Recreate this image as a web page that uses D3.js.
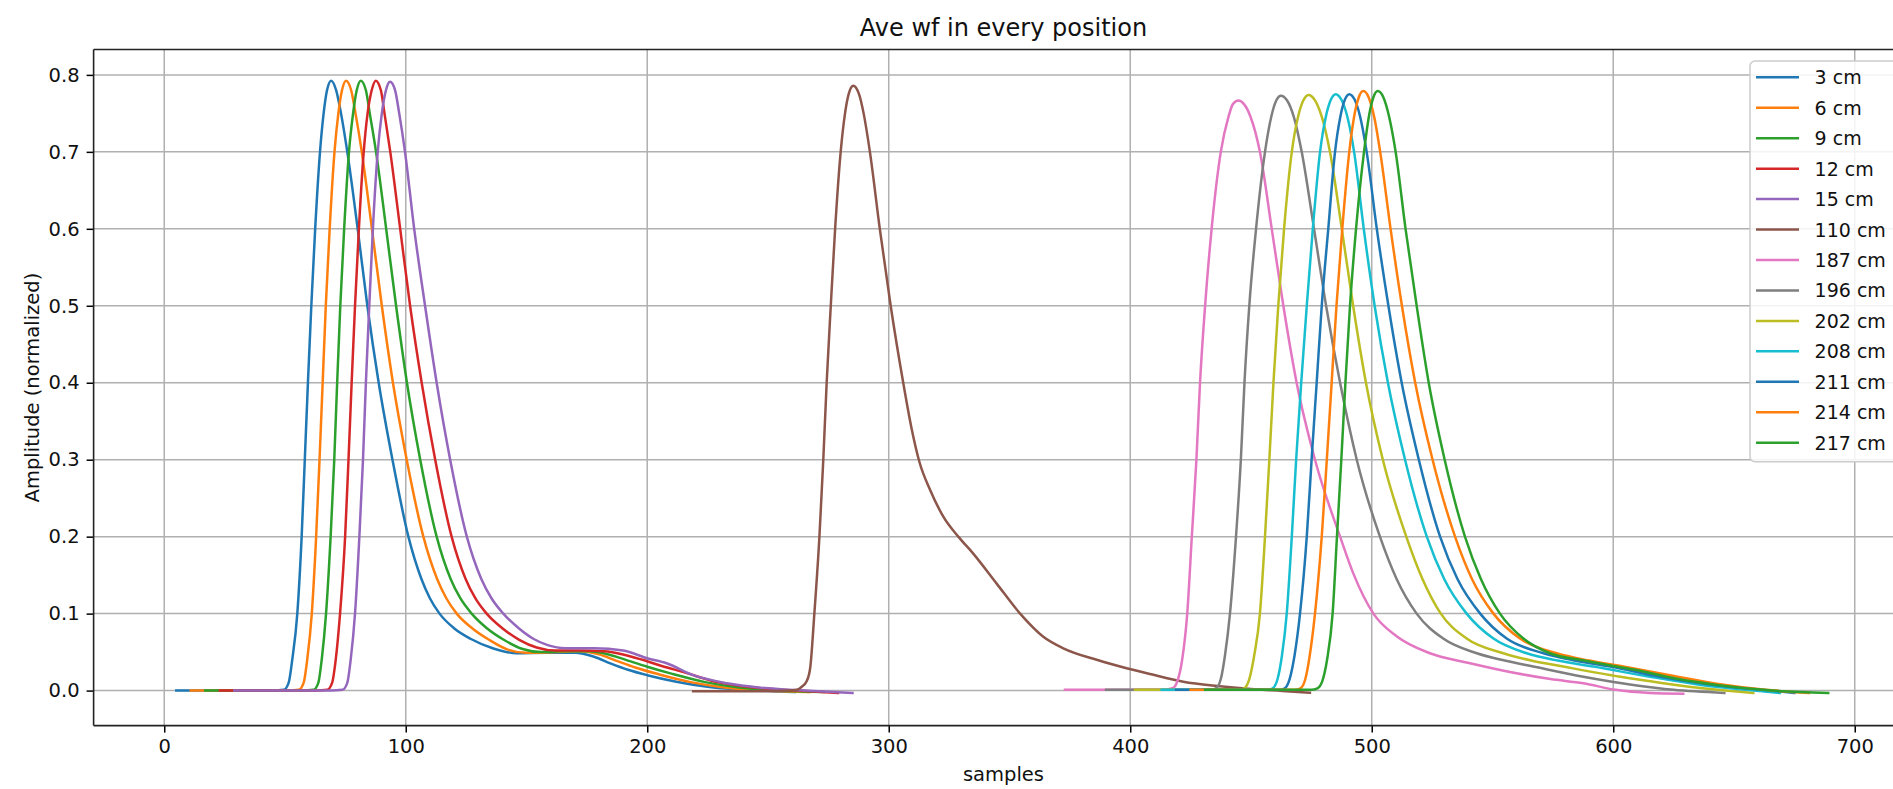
<!DOCTYPE html>
<html>
<head>
<meta charset="utf-8">
<script src="https://cdn.jsdelivr.net/npm/d3@7"></script>
<style>
  html, body { margin: 0; padding: 0; background: #fff; overflow: hidden; }
  svg { display: block; font-family: "DejaVu Sans", sans-serif; }
</style>
</head>
<body>
<svg id="chart" width="1893" height="789"></svg>
<script>
// ---------------- DATA ----------------
const title = "Ave wf in every position";
const xLabel = "samples";
const yLabel = "Amplitude (normalized)";
const xTicks = [0, 100, 200, 300, 400, 500, 600, 700];
const yTicks = [0.0, 0.1, 0.2, 0.3, 0.4, 0.5, 0.6, 0.7, 0.8];
const positions = ["3 cm", "6 cm", "9 cm", "12 cm", "15 cm", "110 cm", "187 cm", "196 cm", "202 cm", "208 cm", "211 cm", "214 cm", "217 cm"];

// [sample, amplitude]
const wf3 = [[5,0],[30,0],[45,0],[49.5,0.001],[51.5,0.01],[53,0.04],[55.1,0.1],[56.9,0.2],[58.2,0.3],[59.5,0.4],[60.9,0.5],[62.5,0.6],[64.5,0.7],[66,0.75],[67.4,0.78],[69.1,0.7925],[71.2,0.78],[73.2,0.75],[75.8,0.7],[80.1,0.6],[84.1,0.5],[88.8,0.4],[94.5,0.3],[101.1,0.2],[106.5,0.145],[110,0.12],[114,0.1],[120,0.081],[127,0.067],[136,0.055],[146,0.0485],[158,0.049],[170,0.049],[178,0.044],[185,0.035],[192,0.027],[200,0.02],[212,0.0116],[225,0.005],[240,0.001],[261,-0.002]];
const wf6 = [[11,0],[35,0],[51,0],[55.7,0.001],[57.7,0.01],[59.2,0.04],[61.1,0.1],[62.9,0.2],[64.3,0.3],[65.6,0.4],[66.9,0.5],[68.5,0.6],[70.5,0.7],[72.1,0.75],[73.6,0.78],[75.3,0.7925],[77.4,0.78],[79.2,0.75],[81.8,0.7],[86,0.6],[90.1,0.5],[94.7,0.4],[100.4,0.3],[107.3,0.2],[113,0.145],[116.8,0.12],[121.1,0.1],[127.5,0.081],[134.5,0.066],[142,0.0535],[150,0.049],[162,0.05],[172,0.051],[180,0.047],[187,0.039],[195,0.03],[205,0.021],[218,0.011],[232,0.004],[248,0.0],[267,-0.002]];
const wf9 = [[17,0],[40,0],[57,0],[61.8,0.001],[63.8,0.01],[65.2,0.04],[67,0.1],[68.9,0.2],[70.4,0.3],[71.6,0.4],[72.9,0.5],[74.5,0.6],[76.5,0.7],[78.2,0.75],[79.7,0.78],[81.4,0.7925],[83.5,0.78],[85.1,0.75],[87.7,0.7],[91.9,0.6],[96,0.5],[100.5,0.4],[106,0.3],[112.8,0.2],[118.6,0.145],[122.6,0.12],[127.3,0.1],[133.6,0.081],[140.6,0.066],[148.4,0.054],[156,0.05],[166,0.051],[176,0.051],[184,0.047],[192,0.039],[200,0.031],[210,0.022],[224,0.011],[238,0.004],[255,0.0],[273,-0.002]];
const wf12 = [[23,0],[45,0],[63,0],[67.5,0.001],[69.5,0.01],[71,0.04],[72.8,0.1],[74.9,0.2],[76.3,0.3],[77.6,0.4],[79,0.5],[80.6,0.6],[82.6,0.7],[84.2,0.75],[85.9,0.78],[87.6,0.7925],[89.7,0.78],[91.2,0.75],[93.6,0.7],[97.7,0.6],[101.8,0.5],[106.6,0.4],[112.2,0.3],[119,0.2],[124.8,0.145],[128.8,0.12],[133.5,0.1],[140,0.081],[147,0.066],[154.2,0.056],[162,0.052],[172,0.052],[182,0.051],[190,0.047],[198,0.04],[206,0.032],[215,0.024],[229,0.011],[244,0.004],[262,0.0],[279,-0.003]];
const wf15 = [[29,0],[50,0],[69,0],[73.8,0.001],[75.8,0.01],[77.2,0.04],[79,0.1],[80.8,0.2],[82.3,0.3],[83.5,0.4],[84.9,0.5],[86.4,0.6],[88.4,0.7],[90.1,0.75],[91.8,0.78],[93.5,0.791],[95.6,0.78],[97.3,0.75],[99.7,0.7],[103.5,0.6],[108,0.5],[112.8,0.4],[118.4,0.3],[125.3,0.2],[131.3,0.145],[135.5,0.12],[140.4,0.1],[146.8,0.081],[153,0.067],[158.8,0.059],[166,0.055],[178,0.055],[190,0.052],[200,0.042],[208,0.0355],[219,0.02],[233,0.0095],[247,0.0037],[265,0.0],[285,-0.003]];
const wf110 = [[219,-0.001],[240,-0.001],[258,0.0],[262,0.001],[264,0.005],[266,0.012],[267.5,0.03],[269.2,0.1],[271.3,0.2],[272.9,0.3],[274.3,0.4],[276,0.5],[277.8,0.6],[280.1,0.7],[281.9,0.75],[283.4,0.775],[285.3,0.786],[287.7,0.775],[289.6,0.75],[292.2,0.7],[296.3,0.6],[300.8,0.5],[306,0.4],[309.5,0.34],[312.8,0.296],[317.1,0.261],[322.6,0.226],[328.8,0.2],[335,0.178],[344.7,0.139],[354.4,0.1],[364,0.07],[372.3,0.055],[386.1,0.04],[398.5,0.029],[408.2,0.0215],[422,0.0116],[436,0.006],[450,0.002],[463,-0.0005],[474.4,-0.0027]];
const wf187 = [[373,0.001],[395,0.001],[414,0.001],[417.5,0.003],[419.5,0.012],[421.5,0.04],[423.6,0.1],[425.5,0.2],[427.4,0.3],[428.9,0.4],[431,0.5],[433.7,0.6],[437.5,0.7],[440.7,0.7457],[442.5,0.762],[444.8,0.7666],[447.1,0.762],[449.8,0.7457],[453.7,0.7],[458.6,0.6],[463.4,0.5],[468.9,0.4],[476.5,0.3],[486.9,0.2],[492.4,0.152],[500.7,0.1],[510.3,0.0706],[524.1,0.0485],[540.7,0.0356],[560,0.0225],[574,0.015],[587.6,0.0095],[601,0.001],[615,-0.003],[629,-0.004]];
const wf196 = [[390,0.001],[415,0.001],[433,0.001],[435.5,0.003],[437.5,0.015],[439.2,0.045],[441.3,0.1],[443.8,0.2],[445.8,0.3],[447.3,0.4],[449.3,0.5],[452.1,0.6],[455.8,0.7],[458.4,0.7457],[460.5,0.767],[462.4,0.773],[464.9,0.767],[467.7,0.7457],[471,0.7],[476.1,0.6],[481.1,0.5],[486.9,0.4],[493.8,0.3],[503.4,0.2],[510.3,0.145],[518.6,0.1],[529.6,0.0676],[543.5,0.0485],[555,0.039],[566.9,0.0312],[587.6,0.018],[608.3,0.0073],[625,0.001],[646,-0.003]];
const wf202 = [[402,0.001],[425,0.001],[445,0.001],[447.2,0.003],[449.3,0.015],[451.3,0.045],[453.7,0.1],[455.8,0.2],[457.6,0.3],[459.3,0.4],[461.3,0.5],[463.7,0.6],[466.9,0.7],[469.5,0.7457],[471.7,0.767],[473.8,0.774],[476.5,0.767],[479.3,0.7457],[482.7,0.7],[487.6,0.6],[492.3,0.5],[497.6,0.4],[504.6,0.3],[514.3,0.2],[521,0.145],[528.6,0.1],[539.3,0.0676],[554.5,0.0485],[566,0.039],[579.3,0.0312],[602.9,0.018],[620,0.01],[640,0.002],[658,-0.003]];
const wf208 = [[413,0.001],[435,0.001],[457,0.001],[459,0.003],[461,0.015],[462.8,0.045],[464.8,0.1],[466.9,0.2],[468.7,0.3],[470.8,0.4],[473.1,0.5],[475.6,0.6],[478.6,0.7],[481,0.7457],[483.1,0.768],[485.1,0.775],[487.4,0.768],[489.9,0.7457],[492.7,0.7],[496.7,0.6],[501.2,0.5],[506.7,0.4],[513.8,0.3],[522.8,0.2],[530,0.145],[539.3,0.1],[550.4,0.0676],[564.2,0.0485],[577,0.039],[591.8,0.0312],[615.2,0.018],[635,0.008],[652,0.002],[669,-0.003]];
const wf211 = [[419,0.001],[440,0.001],[462,0.001],[464,0.003],[466,0.015],[468,0.045],[470.3,0.1],[473.1,0.2],[475.1,0.3],[477.2,0.4],[479.3,0.5],[482,0.6],[484.8,0.7],[487,0.7457],[488.9,0.768],[490.7,0.775],[492.9,0.768],[495.2,0.7457],[497.9,0.7],[502.1,0.6],[506.9,0.5],[512.4,0.4],[519.5,0.3],[528.3,0.2],[535.5,0.145],[544.9,0.1],[555.9,0.0676],[571.1,0.0485],[584,0.039],[598.7,0.0312],[619.4,0.018],[640,0.008],[658,0.002],[675,-0.003]];
const wf214 = [[425,0.001],[450,0.001],[468,0.001],[470.5,0.003],[472.5,0.015],[474.3,0.045],[476.5,0.1],[479.3,0.2],[481.4,0.3],[483.4,0.4],[485.4,0.5],[487.8,0.6],[490.7,0.7],[492.7,0.7457],[494.65,0.771],[496.5,0.779],[498.7,0.771],[501,0.7457],[503.5,0.7],[507.8,0.6],[512.5,0.5],[518,0.4],[525.2,0.3],[534.5,0.2],[541.5,0.145],[550.4,0.1],[561.4,0.0676],[576.6,0.0485],[590,0.039],[604.2,0.0312],[623.5,0.02],[645,0.008],[663,0.001],[681,-0.003]];
const wf217 = [[431,0.001],[455,0.001],[475,0.001],[477.5,0.003],[479.5,0.012],[481.5,0.04],[483.8,0.1],[485.6,0.2],[487.4,0.3],[489.1,0.4],[491,0.5],[493.5,0.6],[496.8,0.7],[498.8,0.7457],[500.7,0.771],[502.5,0.779],[504.8,0.771],[507.2,0.7457],[509.9,0.7],[514,0.6],[518.6,0.5],[523.6,0.4],[530.2,0.3],[538.6,0.2],[545.2,0.145],[553.1,0.1],[562.8,0.0676],[573.8,0.0485],[588,0.039],[601.4,0.0312],[612,0.025],[620.7,0.019],[627,0.015],[643,0.0073],[666,0.0],[689,-0.003]];

const waveforms = [wf3, wf6, wf9, wf12, wf15, wf110, wf187, wf196, wf202, wf208, wf211, wf214, wf217];

// ---------------- LAYOUT ----------------
const W = 1893, H = 789;
const plot = { left: 93.6, right: 1913.3, top: 49.5, bottom: 725.6 };
const FS = 19.5;

const svg = d3.select("#chart");
svg.append("rect").attr("width", W).attr("height", H).attr("fill", "#fff");

const x = d3.scaleLinear().domain([-29.25, 724.25]).range([plot.left, plot.right]);
const y = d3.scaleLinear().domain([-0.0455, 0.833]).range([plot.bottom, plot.top]);
const color = (i) => d3.schemeCategory10[i % 10];

svg.append("defs").append("clipPath").attr("id", "clip")
  .append("rect").attr("x", plot.left).attr("y", plot.top)
  .attr("width", plot.right - plot.left).attr("height", plot.bottom - plot.top);

// grid
const grid = svg.append("g");
grid.selectAll("line.vx").data(xTicks).join("line")
  .attr("x1", d => x(d)).attr("x2", d => x(d))
  .attr("y1", plot.top).attr("y2", plot.bottom)
  .attr("stroke", "#b0b0b0").attr("stroke-width", 1.5);
grid.selectAll("line.hy").data(yTicks).join("line")
  .attr("x1", plot.left).attr("x2", plot.right)
  .attr("y1", d => y(d)).attr("y2", d => y(d))
  .attr("stroke", "#b0b0b0").attr("stroke-width", 1.5);

// lines
const line = d3.line().x(d => x(d[0])).y(d => y(d[1])).curve(d3.curveMonotoneX);
svg.append("g").attr("clip-path", "url(#clip)")
  .selectAll("path").data(waveforms).join("path")
  .attr("d", line)
  .attr("fill", "none")
  .attr("stroke", (d, i) => color(i))
  .attr("stroke-width", 2.5)
  .attr("stroke-linejoin", "round")
  .attr("stroke-linecap", "square");

// axes
const xAxis = d3.axisBottom(x).tickValues(xTicks).tickFormat(d3.format("d"))
  .tickSize(7).tickPadding(7);
const yAxis = d3.axisLeft(y).tickValues(yTicks).tickFormat(d3.format(".1f"))
  .tickSize(7).tickPadding(7);

const gx = svg.append("g").attr("transform", `translate(0,${plot.bottom})`).call(xAxis);
const gy = svg.append("g").attr("transform", `translate(${plot.left},0)`).call(yAxis);
[gx, gy].forEach(g => {
  g.select(".domain").remove();
  g.selectAll(".tick line").attr("stroke", "#000").attr("stroke-width", 1.5);
  g.selectAll(".tick text").attr("fill", "#111").style("font-size", FS + "px")
    .style("font-family", "DejaVu Sans");
});

// spines
const sp = svg.append("g").attr("stroke", "#222").attr("stroke-width", 1.6).attr("fill", "none");
sp.append("line").attr("x1", plot.left).attr("x2", plot.right).attr("y1", plot.top).attr("y2", plot.top);
sp.append("line").attr("x1", plot.left).attr("x2", plot.right).attr("y1", plot.bottom).attr("y2", plot.bottom);
sp.append("line").attr("x1", plot.left).attr("x2", plot.left).attr("y1", plot.top).attr("y2", plot.bottom);
sp.append("line").attr("x1", plot.right).attr("x2", plot.right).attr("y1", plot.top).attr("y2", plot.bottom);

// title & labels
const cx = (plot.left + plot.right) / 2;
svg.append("text").attr("x", cx).attr("y", 36).attr("text-anchor", "middle")
  .style("font-size", "24px").attr("fill", "#111").text(title);
svg.append("text").attr("x", cx).attr("y", 781).attr("text-anchor", "middle")
  .style("font-size", FS + "px").attr("fill", "#111").text(xLabel);
svg.append("text")
  .attr("transform", `translate(32,${(plot.top + plot.bottom) / 2}) rotate(-90)`)
  .attr("text-anchor", "middle").attr("dominant-baseline", "central")
  .style("font-size", FS + "px").attr("fill", "#111").text(yLabel);

// legend
const lg = svg.append("g");
const lgTop = 61, rowH = 30.45, firstRow = 77.3;
lg.append("rect").attr("x", 1750).attr("y", lgTop)
  .attr("width", 150).attr("height", firstRow - lgTop + rowH * (positions.length - 1) + 19)
  .attr("rx", 5).attr("fill", "#fff").attr("fill-opacity", 0.85)
  .attr("stroke", "#cccccc").attr("stroke-width", 1.5);
const rows = lg.selectAll("g.row").data(positions).join("g")
  .attr("transform", (d, i) => `translate(0,${firstRow + i * rowH})`);
rows.append("line").attr("x1", 1756).attr("x2", 1799).attr("y1", 0).attr("y2", 0)
  .attr("stroke", (d, i) => color(i)).attr("stroke-width", 2.5);
rows.append("text").attr("x", 1814.6).attr("y", 0).attr("dominant-baseline", "central")
  .style("font-size", "19px").attr("fill", "#111").text(d => d);
</script>
</body>
</html>
